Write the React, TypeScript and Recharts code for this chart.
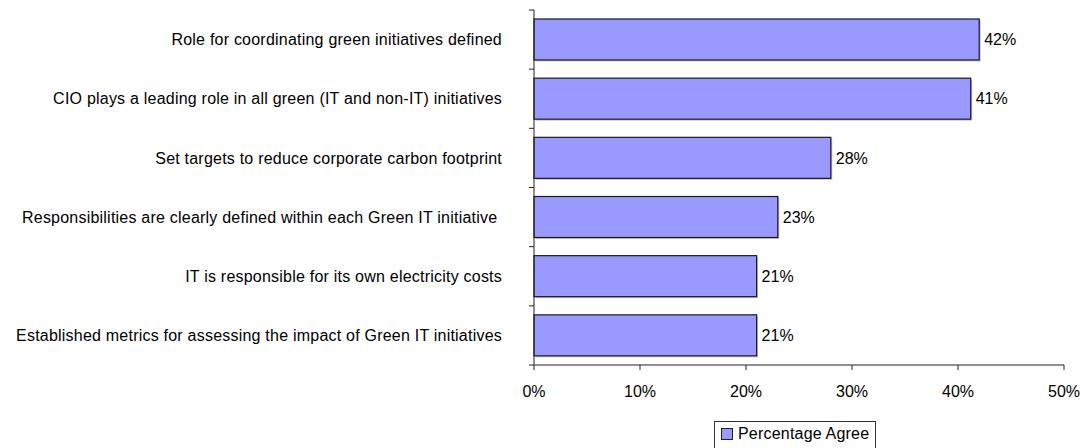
import React from 'react';
import { BarChart, Bar, XAxis, YAxis, LabelList, Legend } from 'recharts';

const categories = [
    'Role for coordinating green initiatives defined',
    'CIO plays a leading role in all green (IT and non-IT) initiatives',
    'Set targets to reduce corporate carbon footprint',
    'Responsibilities are clearly defined within each Green IT initiative ',
    'IT is responsible for its own electricity costs',
    'Established metrics for assessing the impact of Green IT initiatives',
];
const percentageAgree = [42, 41.2, 28, 23, 21, 21];
const xTicks = [0, 10, 20, 30, 40, 50];
const seriesName = 'Percentage Agree';

const data = categories.map((name, i) => ({ name, value: percentageAgree[i] }));

const FONT = '"Liberation Sans", Arial, sans-serif';
const W = 1085;
const H = 448;
const PLOT_TOP = 10;
const PLOT_BOTTOM = 365;
const Y_AXIS_W = 534;
const TICK_MARGIN = 32;
const BAND = (PLOT_BOTTOM - PLOT_TOP) / categories.length;

function CategoryTick(props: any) {
    const { x, y, payload, index } = props;
    const axisX = x + TICK_MARGIN;
    return (
        <g>
            <text x={x} y={y} dy="0.35em" textAnchor="end" fontSize={16} fill="#000"
                style={{ whiteSpace: 'pre', fontFamily: FONT, letterSpacing: '0.22px' }}>
                {payload.value}
            </text>
            <line x1={axisX - 5} x2={axisX} y1={y - BAND / 2} y2={y - BAND / 2} stroke="#222" />
            {index === categories.length - 1 && (
                <line x1={axisX - 5} x2={axisX} y1={y + BAND / 2} y2={y + BAND / 2} stroke="#222" />
            )}
        </g>
    );
}

function ShadowBar(props: any) {
    const { x, y, width, height } = props;
    if (!width || !height) return null;
    return (
        <g>
            <rect x={x + 1.5} y={y + 1.5} width={width} height={height} fill="#c4c4c4" />
            <rect x={x} y={y} width={width} height={height} fill="#9999ff" stroke="#1a1a1a" strokeWidth={1.2} />
        </g>
    );
}

function LegendBox() {
    return (
        <div style={{
            border: '1px solid #333', background: '#fff', padding: '3px 6px 6px 6px',
            display: 'flex', alignItems: 'center', fontFamily: FONT, fontSize: 16, color: '#000',
            whiteSpace: 'nowrap', letterSpacing: '0.2px'
        }}>
            <span style={{
                display: 'inline-block', width: 10, height: 10, background: '#9999ff',
                border: '1px solid #222', marginRight: 5
            }} />
            {seriesName}
        </div>
    );
}

export default function App() {
    return (
        <div style={{ position: 'absolute', left: 0, top: 0, width: W, height: H, background: '#fff' }}>
            <BarChart
                width={W}
                height={H}
                data={data}
                layout="vertical"
                margin={{ top: PLOT_TOP, right: 21, left: 0, bottom: 53 }}
                style={{ fontFamily: FONT }}
            >
                <XAxis
                    type="number"
                    domain={[0, 50]}
                    ticks={xTicks}
                    tickFormatter={(v) => `${v}%`}
                    height={30}
                    tickSize={5}
                    tickMargin={16}
                    interval={0}
                    stroke="#222"
                    tick={{ fill: '#000', fontSize: 16 }}
                />
                <YAxis
                    type="category"
                    dataKey="name"
                    width={Y_AXIS_W}
                    tickSize={0}
                    tickMargin={TICK_MARGIN}
                    interval={0}
                    stroke="#222"
                    tick={<CategoryTick />}
                />
                <Legend
                    layout="horizontal"
                    verticalAlign="middle"
                    align="center"
                    wrapperStyle={{ left: 714, top: 421, width: 'auto' }}
                    content={() => <LegendBox />}
                />
                <Bar dataKey="value" name={seriesName} barSize={41} shape={<ShadowBar />} isAnimationActive={false}>
                    <LabelList
                        dataKey="value"
                        position="right"
                        offset={5}
                        formatter={(v: any) => `${Math.round(Number(v))}%`}
                        fill="#000"
                        fontSize={16}
                    />
                </Bar>
            </BarChart>
        </div>
    );
}
